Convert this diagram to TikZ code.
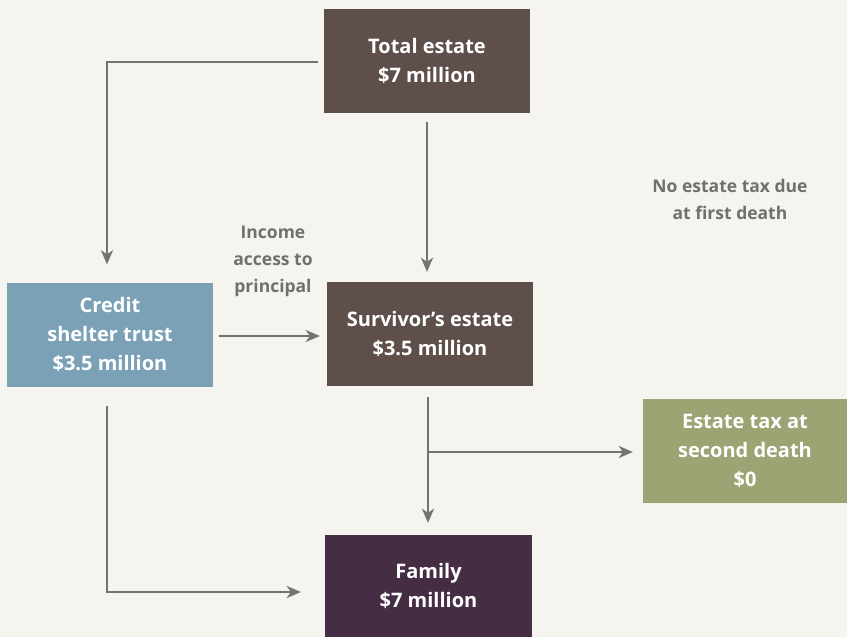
\documentclass[tikz,border=0pt]{standalone}
\usepackage{fontspec}
\setmainfont{Open Sans}
\usetikzlibrary{arrows.meta}
\definecolor{bg}{HTML}{F5F4EF}
\definecolor{brownbox}{HTML}{5E4F4B}
\definecolor{bluebox}{HTML}{7BA1B7}
\definecolor{greenbox}{HTML}{9BA472}
\definecolor{plumbox}{HTML}{452D43}
\definecolor{linegray}{HTML}{737373}
\definecolor{textgray}{HTML}{707070}
\tikzset{
  box/.style={minimum width=206pt, minimum height=104pt, inner sep=0pt, align=center,
    text=white, font=\fontsize{20}{29}\selectfont\bfseries},
  conn/.style={draw=linegray, line width=2pt, -{Stealth[length=14pt,width=12pt,inset=4pt]}},
  lbl/.style={text=textgray, align=center, font=\fontsize{17.5}{27}\selectfont\bfseries}
}
\begin{document}
\begin{tikzpicture}[x=1pt,y=-1pt]
\fill[bg] (0,0) rectangle (847,637);
\useasboundingbox (0,0) rectangle (847,637);
\node[box, fill=brownbox] (total) at (427,61) {Total estate\\\$7 million};
\node[box, fill=bluebox] (credit) at (110,334.5) {Credit\\shelter trust\\\$3.5 million};
\node[box, fill=brownbox] (surv) at (430,334) {Survivor’s estate\\\$3.5 million};
\node[box, fill=greenbox, minimum width=204pt] (tax) at (745,451) {Estate tax at\\second death\\\$0};
\node[box, fill=plumbox, minimum width=207pt, minimum height=102pt] (family) at (428.5,586) {Family\\\$7 million};
\node[lbl] (income) at (273,261) {Income\\access to\\principal};
\node[lbl] (notax) at (730,199.5) {No estate tax due\\at first death};
\coordinate (tl) at (107,62);
\coordinate (bl) at (107,592);
\coordinate (br) at (428,452);
\draw[conn] ([xshift=-6pt]total.west |- tl) -- (tl) -- ([yshift=18pt]credit.north -| tl);
\draw[conn] ([yshift=-9pt]total.south -| 427,0) -- ([yshift=10pt]surv.north -| 427,0);
\draw[conn] ([xshift=6pt]credit.east |- 0,336) -- ([xshift=-7pt]surv.west |- 0,336);
\draw[conn] ([yshift=-11pt]surv.south -| br) -- ([yshift=12pt]family.north -| br);
\draw[conn] (br) -- ([xshift=-10pt]tax.west |- br);
\draw[conn] ([yshift=-19pt]credit.south -| bl) -- (bl) -- ([xshift=-24pt]family.west |- bl);
\end{tikzpicture}
\end{document}
